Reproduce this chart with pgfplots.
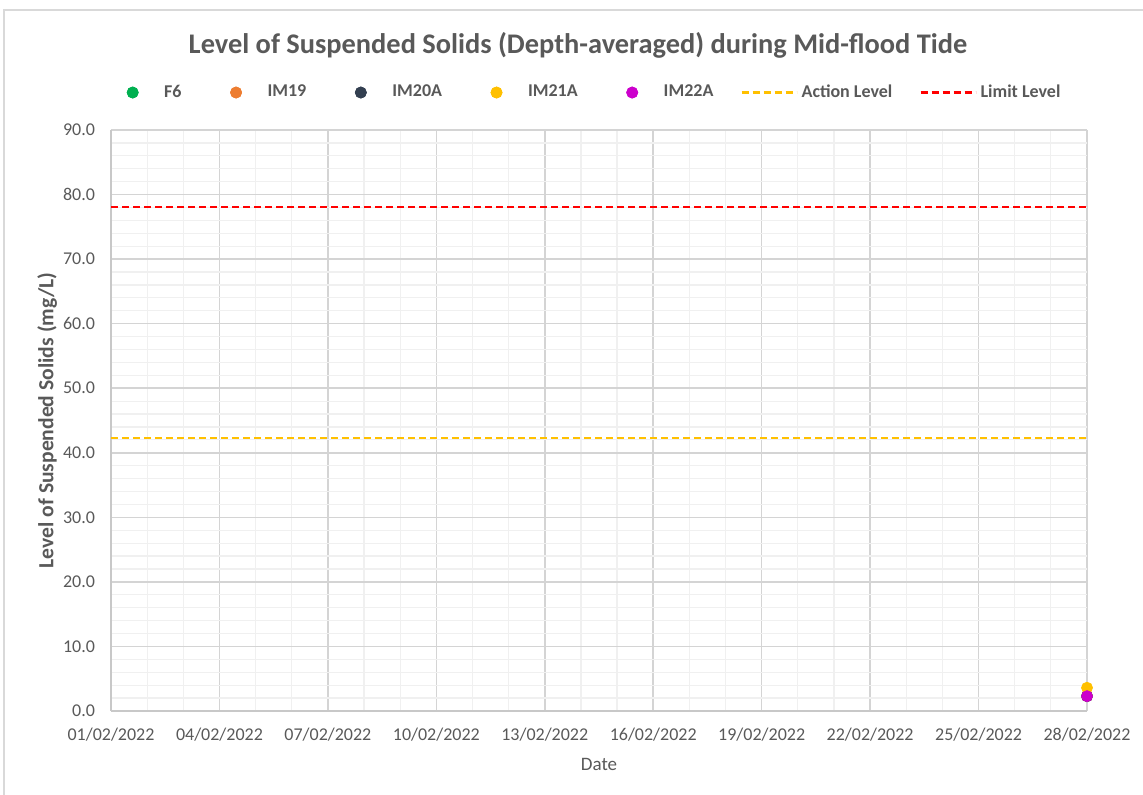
\documentclass[border=0pt]{standalone}
\usepackage{fontspec}
\setmainfont{Carlito}
\usepackage{pgfplots}
\pgfplotsset{compat=1.18}
\definecolor{txtgray}{HTML}{595959}
\definecolor{majgrid}{HTML}{D4D4D4}
\definecolor{mingrid}{HTML}{F0F0F0}
\definecolor{axgray}{HTML}{C8C8C8}
\definecolor{framegray}{HTML}{D9D9D9}
\definecolor{cFsix}{HTML}{00B050}
\definecolor{cIMnineteen}{HTML}{ED7D31}
\definecolor{cIMtwenty}{HTML}{333F50}
\definecolor{cIMtwentyone}{HTML}{FFC000}
\definecolor{cIMtwentytwo}{HTML}{CC00CC}
\definecolor{cAction}{HTML}{FFC000}
\definecolor{cLimit}{HTML}{FF0000}
\pgfplotsset{
  markleg/.style={legend image code/.code={\path[draw=none,fill=none] (0pt,0pt) -- (27.5pt,0pt);
      \path[##1,draw=none] plot coordinates {(13.75pt,0pt)};
      \fill[##1] (13.75pt,0pt) circle[radius=2.75pt];}},
  lineleg/.style={legend image code/.code={\draw[##1] (0pt,0pt) -- (27.5pt,0pt);}},
}
\begin{document}
\begin{tikzpicture}
\useasboundingbox (0,0) rectangle (571.5pt,397.5pt);
\draw[framegray, line width=0.75pt] (2pt,-10pt) rectangle (590pt,392.5pt);
\begin{axis}[
  at={(55.5pt,42pt)}, anchor=south west,
  scale only axis, width=488pt, height=290.5pt,
  xmin=1, xmax=28, ymin=0, ymax=90,
  xtick={1,4,7,10,13,16,19,22,25,28},
  xticklabels={01/02/2022,04/02/2022,07/02/2022,10/02/2022,13/02/2022,16/02/2022,19/02/2022,22/02/2022,25/02/2022,28/02/2022},
  minor xtick={1,2,...,28},
  ytick={0,10,...,90},
  minor ytick={0,2,...,90},
  major tick length=0pt, minor tick length=0pt,
  grid=both,
  major grid style={majgrid, line width=0.8pt},
  minor grid style={mingrid, line width=0.6pt},
  axis x line*=bottom, axis y line*=left,
  axis line style={axgray, line width=0.8pt},
  /pgf/number format/.cd, fixed, fixed zerofill, precision=1, assume math mode=true,
  /pgfplots/.cd,
  tick label style={font=\fontsize{9}{11}\selectfont, text=txtgray},
  yticklabel style={xshift=-4.5pt},
  xticklabel style={yshift=-5pt},
  xlabel={Date},
  ylabel={Level of Suspended Solids (mg/L)},
  xlabel style={font=\fontsize{9.5}{11}\selectfont, text=txtgray, at={(axis description cs:0.5,-0.0929)}, anchor=center},
  ylabel style={font=\fontsize{10.8}{12}\selectfont\bfseries, text=txtgray, at={(axis description cs:-0.0655,0.5)}, anchor=center},
  clip=false,
  legend columns=-1,
  legend style={at={(axis description cs:0.4834,1.0645)}, anchor=center, draw=none, fill=none,
    font=\fontsize{9}{11}\selectfont\bfseries, text=txtgray,
    nodes={inner xsep=0pt, inner ysep=1pt},
    /tikz/every odd column/.style={column sep=2pt},
    /tikz/every even column/.style={column sep=13.5pt}},
  legend cell align=left,
]
\addplot[only marks, mark=*, mark size=2.75pt, color=cFsix, markleg] coordinates {(28,2.3)};
\addlegendentry{F6}
\addplot[only marks, mark=*, mark size=2.75pt, color=cIMnineteen, markleg] coordinates {(28,2.3)};
\addlegendentry{IM19}
\addplot[only marks, mark=*, mark size=2.75pt, color=cIMtwenty, markleg] coordinates {(28,2.3)};
\addlegendentry{IM20A}
\addplot[only marks, mark=*, mark size=2.75pt, color=cIMtwentyone, markleg] coordinates {(28,3.6)};
\addlegendentry{IM21A}
\addplot[only marks, mark=*, mark size=2.75pt, color=cIMtwentytwo, markleg] coordinates {(28,2.3)};
\addlegendentry{IM22A}
\addplot[no marks, color=cAction, line width=1.1pt, dash pattern=on 3.5pt off 2pt, lineleg] coordinates {(1,42.3) (28,42.3)};
\addlegendentry{Action Level}
\addplot[no marks, color=cLimit, line width=1.1pt, dash pattern=on 3.5pt off 2pt, lineleg] coordinates {(1,78.1) (28,78.1)};
\addlegendentry{Limit Level}
\end{axis}
\node[font=\fontsize{14.2}{17}\selectfont\bfseries, text=txtgray] at (289pt,375pt) {Level of Suspended Solids (Depth-averaged) during Mid-flood Tide};
\end{tikzpicture}
\end{document}
